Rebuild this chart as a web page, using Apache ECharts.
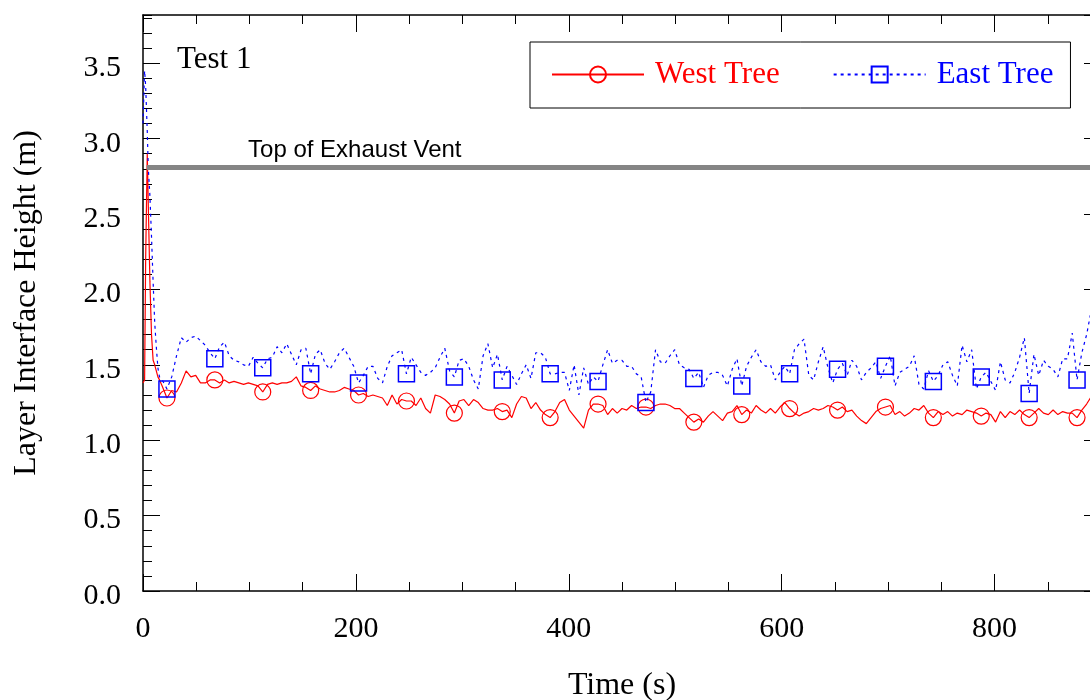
<!DOCTYPE html>
<html>
<head>
<meta charset="utf-8">
<script src="https://cdn.jsdelivr.net/npm/echarts@6/dist/echarts.min.js"></script>
<style>
  html, body { margin: 0; padding: 0; background: #fff; }
  #chart { width: 1090px; height: 700px; }
</style>
</head>
<body>
<div id="chart"></div>
<script>
// time (s)
const times = [
  0, 1.5, 2.5, 4, 5, 6.5, 8, 9.5, 11, 12.5, 14, 15.5,
  18, 22.5, 27, 31.5, 36, 40.5, 45, 49.5, 54, 58.5,
  63, 67.5, 72, 76.5, 81, 85.5, 90, 94.5, 99, 103.5,
  108, 112.5, 117, 121.5, 126, 130.5, 135, 139.5, 144, 148.5,
  153, 157.5, 162, 166.5, 171, 175.5, 180, 184.5, 189, 193.5,
  198, 202.5, 207, 211.5, 216, 220.5, 225, 229.5, 234, 238.5,
  243, 247.5, 252, 256.5, 261, 265.5, 270, 274.5, 279, 283.5,
  288, 292.5, 297, 301.5, 306, 310.5, 315, 319.5, 324, 328.5,
  333, 337.5, 342, 346.5, 351, 355.5, 360, 364.5, 369, 373.5,
  378, 382.5, 387, 391.5, 396, 400.5, 405, 409.5, 414, 418.5,
  423, 427.5, 432, 436.5, 441, 445.5, 450, 454.5, 459, 463.5,
  468, 472.5, 477, 481.5, 486, 490.5, 495, 499.5, 504, 508.5,
  513, 517.5, 522, 526.5, 531, 535.5, 540, 544.5, 549, 553.5,
  558, 562.5, 567, 571.5, 576, 580.5, 585, 589.5, 594, 598.5,
  603, 607.5, 612, 616.5, 621, 625.5, 630, 634.5, 639, 643.5,
  648, 652.5, 657, 661.5, 666, 670.5, 675, 679.5, 684, 688.5,
  693, 697.5, 702, 706.5, 711, 715.5, 720, 724.5, 729, 733.5,
  738, 742.5, 747, 751.5, 756, 760.5, 765, 769.5, 774, 778.5,
  783, 787.5, 792, 796.5, 801, 805.5, 810, 814.5, 819, 823.5,
  828, 832.5, 837, 841.5, 846, 850.5, 855, 859.5, 864, 868.5,
  873, 877.5, 882, 886.5, 890
];

// layer interface height (m)
const westTree = [
  1.38, 1.40, 2.20, 2.90, 2.55, 2.05, 1.70, 1.53, 1.50, 1.46, 1.42, 1.40,
  1.36, 1.28, 1.33, 1.32, 1.38, 1.46, 1.42, 1.43, 1.38, 1.38,
  1.40, 1.40, 1.38, 1.40, 1.38, 1.39, 1.38, 1.37, 1.38, 1.37,
  1.36, 1.32, 1.37, 1.38, 1.37, 1.38, 1.38, 1.39, 1.42, 1.36,
  1.35, 1.33, 1.36, 1.34, 1.33, 1.32, 1.32, 1.33, 1.35, 1.34,
  1.33, 1.30, 1.31, 1.29, 1.30, 1.29, 1.28, 1.23, 1.30, 1.24,
  1.27, 1.26, 1.26, 1.23, 1.28, 1.21, 1.18, 1.30, 1.29, 1.27,
  1.24, 1.18, 1.26, 1.27, 1.23, 1.27, 1.25, 1.21, 1.20, 1.20,
  1.21, 1.19, 1.20, 1.15, 1.24, 1.29, 1.28, 1.21, 1.25, 1.20,
  1.17, 1.15, 1.19, 1.25, 1.27, 1.20, 1.16, 1.12, 1.08, 1.20,
  1.24, 1.24, 1.23, 1.17, 1.21, 1.18, 1.21, 1.20, 1.23, 1.21,
  1.22, 1.22, 1.21, 1.23, 1.24, 1.24, 1.23, 1.21, 1.21, 1.18,
  1.15, 1.12, 1.14, 1.12, 1.16, 1.19, 1.16, 1.13, 1.18, 1.19,
  1.23, 1.17, 1.20, 1.18, 1.23, 1.20, 1.18, 1.21, 1.18, 1.22,
  1.25, 1.21, 1.18, 1.16, 1.18, 1.19, 1.21, 1.20, 1.21, 1.23,
  1.22, 1.20, 1.22, 1.19, 1.20, 1.16, 1.13, 1.11, 1.15, 1.19,
  1.21, 1.22, 1.23, 1.17, 1.19, 1.16, 1.18, 1.21, 1.20, 1.23,
  1.18, 1.15, 1.19, 1.17, 1.19, 1.16, 1.18, 1.17, 1.20, 1.19,
  1.18, 1.16, 1.18, 1.17, 1.12, 1.19, 1.15, 1.19, 1.17, 1.20,
  1.17, 1.15, 1.18, 1.21, 1.18, 1.17, 1.20, 1.17, 1.19, 1.18,
  1.18, 1.15, 1.20, 1.24, 1.28
];

const eastTree = [
  3.10, 3.45, 3.35, 3.05, 2.80, 2.62, 2.35, 2.05, 1.78, 1.62, 1.48, 1.42,
  1.40, 1.34, 1.42, 1.56, 1.68, 1.65, 1.68, 1.69, 1.66, 1.63,
  1.58, 1.54, 1.62, 1.65, 1.56, 1.53, 1.52, 1.50, 1.49, 1.55,
  1.51, 1.48, 1.54, 1.55, 1.62, 1.58, 1.64, 1.57, 1.50, 1.60,
  1.61, 1.44, 1.57, 1.60, 1.51, 1.47, 1.52, 1.58, 1.61, 1.55,
  1.49, 1.38, 1.43, 1.49, 1.49, 1.41, 1.38, 1.49, 1.56, 1.58,
  1.60, 1.44, 1.55, 1.50, 1.45, 1.43, 1.45, 1.48, 1.55, 1.61,
  1.46, 1.42, 1.53, 1.54, 1.49, 1.40, 1.34, 1.56, 1.64, 1.48,
  1.57, 1.40, 1.49, 1.43, 1.37, 1.44, 1.50, 1.41, 1.58, 1.58,
  1.55, 1.44, 1.44, 1.45, 1.45, 1.33, 1.50, 1.30, 1.48, 1.37,
  1.42, 1.39, 1.50, 1.60, 1.51, 1.53, 1.53, 1.49, 1.49, 1.44,
  1.42, 1.25, 1.32, 1.60, 1.52, 1.51, 1.56, 1.60, 1.50, 1.48,
  1.47, 1.41, 1.45, 1.35, 1.43, 1.45, 1.45, 1.43, 1.36, 1.47,
  1.54, 1.36, 1.49, 1.55, 1.60, 1.52, 1.49, 1.50, 1.40, 1.45,
  1.49, 1.44, 1.60, 1.64, 1.67, 1.43, 1.40, 1.52, 1.62, 1.48,
  1.38, 1.47, 1.51, 1.43, 1.53, 1.49, 1.40, 1.45, 1.48, 1.52,
  1.41, 1.49, 1.56, 1.36, 1.45, 1.47, 1.49, 1.56, 1.37, 1.34,
  1.46, 1.39, 1.43, 1.50, 1.52, 1.43, 1.36, 1.63, 1.52, 1.60,
  1.34, 1.42, 1.45, 1.39, 1.33, 1.52, 1.40, 1.38, 1.45, 1.55,
  1.68, 1.31, 1.57, 1.43, 1.53, 1.49, 1.47, 1.42, 1.54, 1.54,
  1.71, 1.40, 1.58, 1.70, 1.83
];

// times that carry a marker symbol
const markerTimes = [
  22.5, 67.5, 112.5, 157.5, 202.5, 247.5, 292.5, 337.5, 382.5, 427.5,
  472.5, 517.5, 562.5, 607.5, 652.5, 697.5, 742.5, 787.5, 832.5, 877.5
];

const ventHeight = 2.81;
const ventStart = 3.5;
const ventLabelTime = 98.7;

const serif = 'Liberation Serif';
const markerSet = new Set(markerTimes);

function buildData(values) {
  return times.map((t, i) =>
    markerSet.has(t) ? [t, values[i]] : { value: [t, values[i]], symbol: 'none' }
  );
}

const chart = echarts.init(document.getElementById('chart'));

const tickLine = { color: '#000', width: 1 };
const frameLine = { show: true, onZero: false, lineStyle: { color: '#000', width: 1.5 } };
const noLine = { show: false, onZero: false };

const option = {
  animation: false,
  backgroundColor: '#fff',
  title: {
    text: 'Test 1',
    left: 177,
    top: 44,
    padding: 0,
    textStyle: { fontFamily: serif, fontSize: 31, fontWeight: 'normal', color: '#000' }
  },
  legend: {
    left: 530,
    top: 42,
    orient: 'horizontal',
    data: [
      { name: 'West Tree', textStyle: { color: '#ff0000' } },
      { name: 'East Tree', textStyle: { color: '#0000ff' } }
    ],
    itemWidth: 92,
    itemHeight: 20,
    itemGap: 53,
    padding: [17, 17, 18, 21],
    borderColor: '#000',
    borderWidth: 1,
    borderRadius: 0,
    selectedMode: false,
    textStyle: { fontFamily: serif, fontSize: 31, padding: [0, 0, 0, 6] }
  },
  grid: {
    left: 143,
    right: -11,
    top: 15,
    bottom: 109,
    outerBoundsMode: 'none'
  },
  xAxis: [
    {
      type: 'value', position: 'bottom', min: 0, max: 900, interval: 200,
      axisLine: frameLine,
      axisTick: { inside: true, length: 17, lineStyle: tickLine },
      axisLabel: { fontFamily: serif, fontSize: 30, color: '#000', margin: 23, showMaxLabel: false },
      splitLine: { show: false },
      name: 'Time (s)',
      nameLocation: 'middle',
      nameGap: 79,
      nameTextStyle: { fontFamily: serif, fontSize: 32, color: '#000' }
    },
    {
      type: 'value', position: 'bottom', min: 0, max: 900, interval: 50,
      axisLine: noLine,
      axisTick: { inside: true, length: 9, lineStyle: tickLine },
      axisLabel: { show: false },
      splitLine: { show: false }
    },
    {
      type: 'value', position: 'top', min: 0, max: 900, interval: 200,
      axisLine: frameLine,
      axisTick: { inside: true, length: 17, lineStyle: tickLine },
      axisLabel: { show: false },
      splitLine: { show: false }
    },
    {
      type: 'value', position: 'top', min: 0, max: 900, interval: 50,
      axisLine: noLine,
      axisTick: { inside: true, length: 9, lineStyle: tickLine },
      axisLabel: { show: false },
      splitLine: { show: false }
    }
  ],
  yAxis: [
    {
      type: 'value', position: 'left', min: 0, max: 3.82, interval: 0.5,
      axisLine: frameLine,
      axisTick: { inside: true, length: 17, lineStyle: tickLine },
      axisLabel: {
        color: '#000', margin: 22, showMaxLabel: false,
        formatter: v => '{n|' + v.toFixed(1) + '}',
        rich: { n: { fontFamily: serif, fontSize: 30, color: '#000', padding: [10, 0, 0, 0] } }
      },
      splitLine: { show: false },
      name: 'Layer Interface Height (m)',
      nameLocation: 'middle',
      nameGap: 100,
      nameTextStyle: { fontFamily: serif, fontSize: 32, color: '#000' }
    },
    {
      type: 'value', position: 'left', min: 0, max: 3.82, interval: 0.1,
      axisLine: noLine,
      axisTick: { inside: true, length: 9, lineStyle: tickLine },
      axisLabel: { show: false },
      splitLine: { show: false }
    },
    {
      type: 'value', position: 'right', min: 0, max: 3.82, interval: 0.5,
      axisLine: frameLine,
      axisTick: { inside: true, length: 17, lineStyle: tickLine },
      axisLabel: { show: false },
      splitLine: { show: false }
    }
  ],
  series: [
    {
      name: 'vent',
      type: 'line',
      data: [],
      silent: true,
      markLine: {
        silent: true,
        symbol: ['none', 'none'],
        label: { show: false },
        lineStyle: { color: '#858585', width: 5, type: 'solid' },
        data: [[{ coord: [ventStart, ventHeight] }, { coord: [900, ventHeight] }]]
      }
    },
    {
      name: 'West Tree',
      type: 'line',
      data: buildData(westTree),
      symbol: 'circle',
      symbolSize: 16,
      showSymbol: true,
      itemStyle: { color: 'rgba(255,0,0,0)', borderColor: '#ff0000', borderWidth: 1.2 },
      lineStyle: { color: '#ff0000', width: 1.2 },
      emphasis: { disabled: true },
      z: 3
    },
    {
      name: 'East Tree',
      type: 'line',
      data: buildData(eastTree),
      symbol: 'rect',
      symbolSize: 16,
      showSymbol: true,
      itemStyle: { color: 'rgba(0,0,255,0)', borderColor: '#0000ff', borderWidth: 1.5 },
      lineStyle: { color: '#0000ff', width: 1.2, type: [3, 4] },
      emphasis: { disabled: true },
      z: 4
    }
  ]
};

chart.setOption(option);

// label of the vent line, anchored in data coordinates
const p = chart.convertToPixel({ xAxisIndex: 0, yAxisIndex: 0 }, [ventLabelTime, ventHeight]);
chart.setOption({
  graphic: [{
    type: 'text',
    x: p[0],
    y: p[1] - 5,
    silent: true,
    style: {
      text: 'Top of Exhaust Vent',
      fontFamily: 'Liberation Sans',
      fontSize: 24,
      fill: '#000',
      align: 'left',
      verticalAlign: 'bottom'
    }
  }]
});
</script>
</body>
</html>
